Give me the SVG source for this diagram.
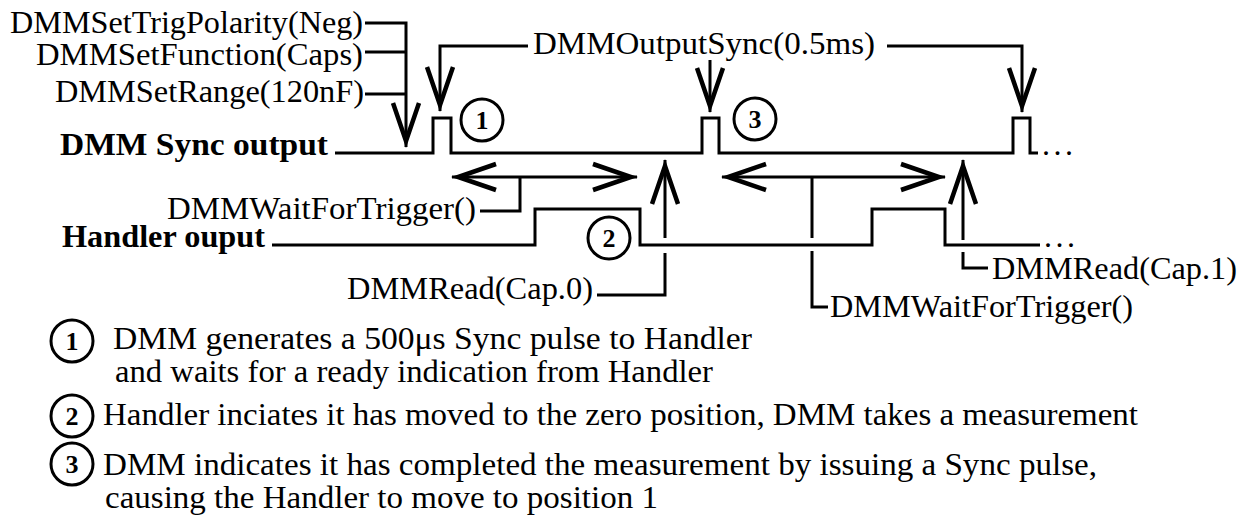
<svg xmlns="http://www.w3.org/2000/svg" width="1250" height="522" viewBox="0 0 1250 522" font-family="'Liberation Serif', serif">
  <style>
    .t { font-size: 32px; fill: #000; }
    .b { font-weight: bold; }
    .lg { font-size: 31px; }
    .ln { fill: none; stroke: #000; stroke-width: 3; stroke-linejoin: miter; }
    .ci { fill: #fff; stroke: #000; stroke-width: 3; }
    .n { font-weight: bold; font-size: 26px; text-anchor: middle; fill: #000; }
  </style>
  <defs>
    <marker id="ah" viewBox="-44 -16 48 32" refX="0" refY="0" markerWidth="48" markerHeight="32" markerUnits="userSpaceOnUse" orient="auto-start-reverse" overflow="visible">
      <path d="M-44,-13 L-6,0 L-44,13" fill="none" stroke="#000" stroke-width="4.5" stroke-linejoin="miter" stroke-miterlimit="6"/>
    </marker>
  </defs>
  <rect x="0" y="0" width="1250" height="522" fill="#fff"/>

  <g id="connectors">
    <path class="ln" d="M365,23 H406 V147" marker-end="url(#ah)"/>
    <path class="ln" d="M365,52 H406"/>
    <path class="ln" d="M365,94 H406"/>
    <path class="ln" d="M528,46 H440 V111" marker-end="url(#ah)"/>
    <path class="ln" d="M710,60 V112" marker-end="url(#ah)"/>
    <path class="ln" d="M887,46 H1022 V112" marker-end="url(#ah)"/>
    <path class="ln" d="M452,177 H637" marker-start="url(#ah)" marker-end="url(#ah)"/>
    <path class="ln" d="M520,177 V211 H480"/>
    <path class="ln" d="M722,177 H945" marker-start="url(#ah)" marker-end="url(#ah)"/>
    <path class="ln" d="M812,177 V238 M812,251 V307 H828"/>
    <path class="ln" d="M597,295 H665 V253 M665,238 V160" marker-end="url(#ah)"/>
    <path class="ln" d="M988,268 H963 V252 M963,240 V160" marker-end="url(#ah)"/>
  </g>

  <g id="sync-signal">
    <text class="t b" x="60" y="155" textLength="268" lengthAdjust="spacingAndGlyphs">DMM Sync output</text>
    <path class="ln" d="M335,153 H433 V118 H451 V153 H702 V118 H719 V153 H1013 V118 H1030 V153 H1038"/>
    <text class="t" x="1042" y="155" textLength="31" lengthAdjust="spacing">...</text>
  </g>

  <g id="handler-signal">
    <text class="t b" x="62" y="247" textLength="203" lengthAdjust="spacingAndGlyphs">Handler ouput</text>
    <path class="ln" d="M272,245 H535 V209 H640 V245 H872 V209 H945 V245 H1040"/>
    <text class="t" x="1044" y="247" textLength="31" lengthAdjust="spacing">...</text>
  </g>

  <g id="label-trigpolarity">
    <text class="t" x="10" y="33" textLength="353" lengthAdjust="spacingAndGlyphs">DMMSetTrigPolarity(Neg)</text>
  </g>
  <g id="label-setfunction">
    <text class="t" x="36" y="65" textLength="327" lengthAdjust="spacingAndGlyphs">DMMSetFunction(Caps)</text>
  </g>
  <g id="label-setrange">
    <text class="t" x="55" y="102" textLength="309" lengthAdjust="spacingAndGlyphs">DMMSetRange(120nF)</text>
  </g>
  <g id="label-outputsync">
    <text class="t" x="533" y="54" textLength="342" lengthAdjust="spacingAndGlyphs">DMMOutputSync(0.5ms)</text>
  </g>
  <g id="label-wait1">
    <text class="t" x="167" y="219" textLength="309" lengthAdjust="spacingAndGlyphs">DMMWaitForTrigger()</text>
  </g>
  <g id="label-read0">
    <text class="t" x="347" y="299" textLength="246" lengthAdjust="spacingAndGlyphs">DMMRead(Cap.0)</text>
  </g>
  <g id="label-read1">
    <text class="t" x="992" y="279" textLength="245" lengthAdjust="spacingAndGlyphs">DMMRead(Cap.1)</text>
  </g>
  <g id="label-wait2">
    <text class="t" x="830" y="317" textLength="303" lengthAdjust="spacingAndGlyphs">DMMWaitForTrigger()</text>
  </g>

  <g id="marker-1">
    <circle class="ci" cx="482" cy="120" r="21"/>
    <text class="n" x="482" y="129">1</text>
  </g>
  <g id="marker-2">
    <circle class="ci" cx="609" cy="238" r="21"/>
    <text class="n" x="609" y="247">2</text>
  </g>
  <g id="marker-3">
    <circle class="ci" cx="755" cy="119" r="21"/>
    <text class="n" x="755" y="128">3</text>
  </g>

  <g id="legend-1">
    <circle class="ci" cx="72" cy="341" r="21"/>
    <text class="n" x="72" y="350">1</text>
    <text class="t lg" x="113" y="349" textLength="639" lengthAdjust="spacingAndGlyphs">DMM generates a 500μs  Sync pulse to Handler</text>
    <text class="t lg" x="115" y="382" textLength="598" lengthAdjust="spacingAndGlyphs">and waits for a ready indication from Handler</text>
  </g>
  <g id="legend-2">
    <circle class="ci" cx="72" cy="416" r="21"/>
    <text class="n" x="72" y="425">2</text>
    <text class="t lg" x="103" y="425" textLength="1035" lengthAdjust="spacingAndGlyphs">Handler inciates it has moved to the zero position, DMM takes a measurement</text>
  </g>
  <g id="legend-3">
    <circle class="ci" cx="72" cy="464" r="21"/>
    <text class="n" x="72" y="473">3</text>
    <text class="t lg" x="103" y="475" textLength="994" lengthAdjust="spacingAndGlyphs">DMM indicates it has completed the measurement by issuing a Sync pulse,</text>
    <text class="t lg" x="105" y="508" textLength="553" lengthAdjust="spacingAndGlyphs">causing the Handler to move to position 1</text>
  </g>
</svg>
